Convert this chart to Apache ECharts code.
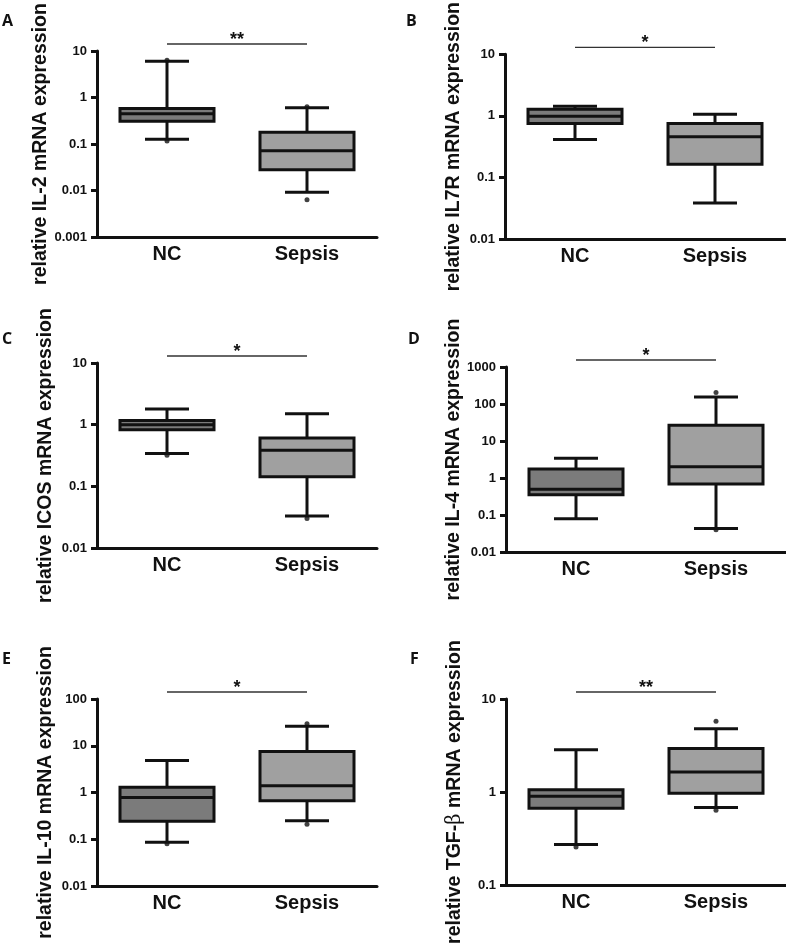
<!DOCTYPE html>
<html>
<head>
<meta charset="utf-8">
<script src="https://cdn.jsdelivr.net/npm/echarts@6/dist/echarts.min.js"></script>
<style>
  html, body { margin: 0; padding: 0; background: #fff; }
  #chart { width: 786px; height: 946px; }
</style>
</head>
<body>
<div id="chart"></div>
<script>
// data
const groups = ['NC', 'Sepsis'];
const panelLetters = ['A', 'B', 'C', 'D', 'E', 'F'];
const yTitles = [
    'relative IL-2 mRNA expression',
    'relative IL7R mRNA expression',
    'relative ICOS mRNA expression',
    'relative IL-4 mRNA expression',
    'relative IL-10 mRNA expression',
    'relative TGF-{b|β} mRNA expression'
];
const yMin = [0.001, 0.01, 0.01, 0.01, 0.01, 0.1];
const yMax = [10, 10, 10, 1000, 100, 10];
const stars = ['**', '*', '*', '*', '*', '**'];

// [min, Q1, median, Q3, max]
const ncBoxes = [
    [0.126, 0.31, 0.45, 0.58, 6.0],
    [0.415, 0.75, 0.99, 1.28, 1.43],
    [0.34, 0.83, 1.0, 1.17, 1.79],
    [0.079, 0.35, 0.5, 1.75, 3.4],
    [0.086, 0.243, 0.78, 1.3, 4.85],
    [0.272, 0.67, 0.9, 1.06, 2.85]
];
const sepsisBoxes = [
    [0.0092, 0.028, 0.072, 0.18, 0.6],
    [0.0386, 0.164, 0.46, 0.75, 1.06],
    [0.033, 0.143, 0.385, 0.61, 1.5],
    [0.043, 0.69, 2.0, 26.7, 155],
    [0.25, 0.67, 1.39, 7.56, 26],
    [0.68, 0.97, 1.64, 2.94, 4.79]
];
// single points shown as dots
const ncDots = [[6.3, 0.116], [], [0.32], [], [0.08], [0.257]];
const sepsisDots = [[0.63, 0.0063], [], [0.030], [203, 0.04], [29.6, 0.21], [5.78, 0.635]];

// layout
const gridBoxes = [
    { left: 97, top: 51, height: 186 },
    { left: 505, top: 53, height: 186 },
    { left: 97, top: 363, height: 185 },
    { left: 506, top: 367, height: 185 },
    { left: 97, top: 699, height: 187 },
    { left: 506, top: 699, height: 186 }
];
const letterPos = [[2, 13], [406, 13], [2, 331], [408, 331], [2, 651], [410, 651]];
const boxWidth = 94;
const capWidth = 44;
const fills = ['#7b7b7b', '#a0a0a0'];
const ink = '#111';
const font = 'Liberation Sans';

const myChart = echarts.init(document.getElementById('chart'));

function renderBox(params, api) {
    const ci = api.value(0);
    const pts = [1, 2, 3, 4, 5].map(k => api.coord([ci, api.value(k)]));
    const x = pts[0][0];
    const [yMinP, yQ1, yMed, yQ3, yMaxP] = pts.map(p => p[1]);
    const ls = { stroke: ink, lineWidth: 3 };
    return {
        type: 'group',
        children: [
            { type: 'line', shape: { x1: x, y1: yMaxP, x2: x, y2: yQ3 }, style: ls },
            { type: 'line', shape: { x1: x, y1: yQ1, x2: x, y2: yMinP }, style: ls },
            { type: 'line', shape: { x1: x - capWidth / 2, y1: yMaxP, x2: x + capWidth / 2, y2: yMaxP }, style: ls },
            { type: 'line', shape: { x1: x - capWidth / 2, y1: yMinP, x2: x + capWidth / 2, y2: yMinP }, style: ls },
            {
                type: 'rect',
                shape: { x: x - boxWidth / 2, y: yQ3, width: boxWidth, height: yQ1 - yQ3 },
                style: { fill: fills[ci], stroke: ink, lineWidth: 3 }
            },
            { type: 'line', shape: { x1: x - boxWidth / 2, y1: yMed, x2: x + boxWidth / 2, y2: yMed }, style: ls }
        ]
    };
}

const grids = [], xAxes = [], yAxes = [], series = [];
for (let i = 0; i < 6; i++) {
    grids.push({ left: gridBoxes[i].left, top: gridBoxes[i].top, width: 280, height: gridBoxes[i].height });
    xAxes.push({
        type: 'category',
        gridIndex: i,
        data: groups,
        axisLine: { lineStyle: { color: ink, width: 3 } },
        axisTick: { alignWithLabel: true, length: 6, lineStyle: { color: ink, width: 3 } },
        axisLabel: { color: ink, fontSize: 20, fontWeight: 'bold', fontFamily: font, margin: 7 },
        splitLine: { show: false }
    });
    yAxes.push({
        type: 'log',
        logBase: 10,
        gridIndex: i,
        min: yMin[i],
        max: yMax[i],
        name: yTitles[i],
        nameLocation: 'middle',
        nameGap: 41,
        nameTextStyle: {
            color: ink, fontSize: 19.5, fontWeight: 'bold', fontFamily: font,
            rich: { b: { fontFamily: 'DejaVu Serif', fontWeight: 'normal', fontSize: 19.5, color: ink } }
        },
        axisLine: { show: true, lineStyle: { color: ink, width: 3 } },
        axisTick: { show: true, length: 6, lineStyle: { color: ink, width: 3 } },
        axisLabel: {
            color: ink, fontSize: 13, fontWeight: 'bold', fontFamily: font, margin: 10,
            formatter: v => String(+(+v).toPrecision(3))
        },
        splitLine: { show: false },
        minorTick: { show: false }
    });
    series.push({
        type: 'custom',
        xAxisIndex: i,
        yAxisIndex: i,
        renderItem: renderBox,
        encode: { x: 0, y: [1, 2, 3, 4, 5] },
        data: [[0, ...ncBoxes[i]], [1, ...sepsisBoxes[i]]],
        z: 2
    });
    series.push({
        type: 'scatter',
        xAxisIndex: i,
        yAxisIndex: i,
        symbolSize: 5,
        itemStyle: { color: ink },
        data: ncDots[i].map(v => [0, v]).concat(sepsisDots[i].map(v => [1, v])),
        z: 3
    });
}

myChart.setOption({
    backgroundColor: '#ffffff',
    animation: false,
    grid: grids,
    xAxis: xAxes,
    yAxis: yAxes,
    series: series
});

// significance bars and panel letters
const graphics = [];
for (let i = 0; i < 6; i++) {
    const p0 = myChart.convertToPixel({ gridIndex: i }, [0, yMax[i]]);
    const p1 = myChart.convertToPixel({ gridIndex: i }, [1, yMax[i]]);
    const y = p0[1] - 7;
    graphics.push({
        type: 'line',
        shape: { x1: p0[0], y1: y, x2: p1[0], y2: y },
        style: { stroke: '#333', lineWidth: 1.3 }
    });
    graphics.push({
        type: 'text',
        style: {
            text: stars[i], x: (p0[0] + p1[0]) / 2, y: y - 13,
            align: 'center', verticalAlign: 'top',
            font: 'bold 18px "Liberation Sans"', fill: ink
        }
    });
    graphics.push({
        type: 'text',
        style: {
            text: panelLetters[i], x: letterPos[i][0], y: letterPos[i][1],
            align: 'left', verticalAlign: 'top',
            font: 'bold 16px "Open Sans"', fill: ink
        }
    });
}
myChart.setOption({ graphic: graphics });
</script>
</body>
</html>
